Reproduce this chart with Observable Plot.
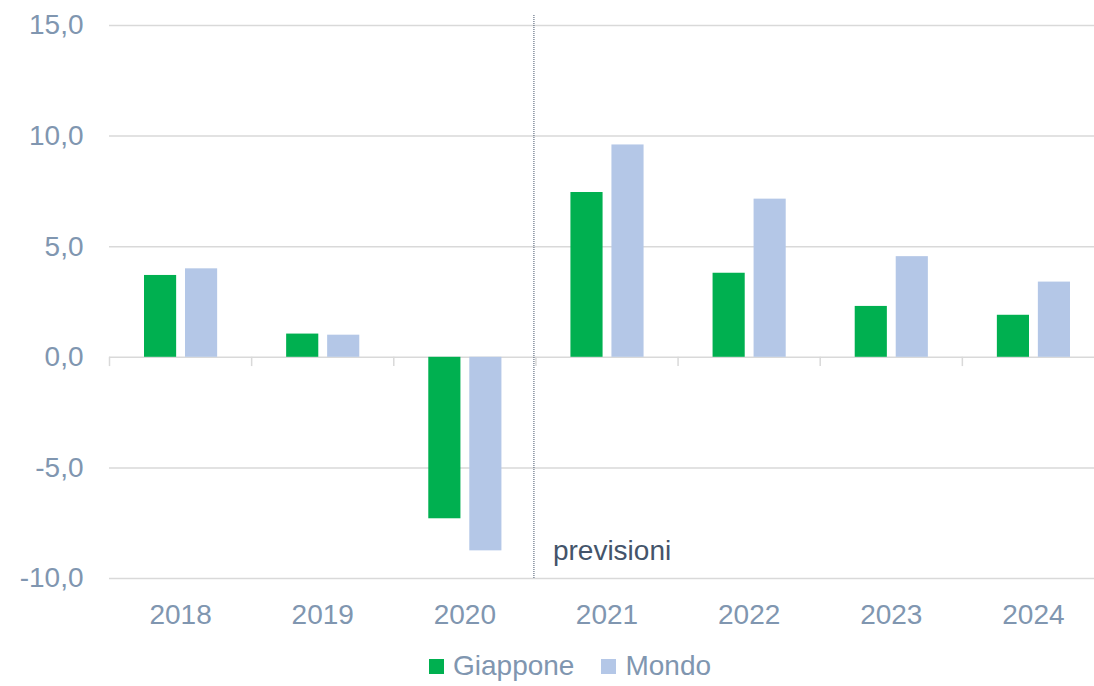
<!DOCTYPE html>
<html>
<head>
<meta charset="utf-8">
<script src="https://cdn.jsdelivr.net/npm/d3@7"></script>
<script src="https://cdn.jsdelivr.net/npm/@observablehq/plot@0.6"></script>
<style>
  body { margin: 0; background: #fff; font-family: "Liberation Sans", Arial, sans-serif; }
  #chart { position: relative; width: 1094px; height: 686px; }
  .legend { position: absolute; left: 429px; top: 650px; display: flex; align-items: center; font-size: 28px; color: #8096b0; }
  .legend .sw { width: 15px; height: 15px; display: inline-block; margin-right: 9px; }
  .legend .item { display: flex; align-items: center; margin-right: 27px; }
</style>
</head>
<body>
<div id="chart"></div>
<script>
const years = [2018, 2019, 2020, 2021, 2022, 2023, 2024];
const giappone = [3.7, 1.05, -7.3, 7.45, 3.8, 2.3, 1.9];
const mondo = [4.0, 1.0, -8.75, 9.6, 7.15, 4.55, 3.4];
const seriesNames = ["Giappone", "Mondo"];
const seriesColors = ["#00b050", "#b4c7e7"];
const yTicks = [-10, -5, 0, 5, 10, 15];
const forecastFrom = 2021;
const forecastLabel = "previsioni";

const dataG = years.map((year, i) => ({year, value: giappone[i]}));
const dataM = years.map((year, i) => ({year, value: mondo[i]}));
const separators = years.map(y => y - 0.5);

const textColor = "#8096b0";
const gridColor = "#d9d9d9";

const plot = Plot.plot({
  width: 1094,
  height: 640,
  marginTop: 25,
  marginBottom: 62,
  marginLeft: 109,
  marginRight: 0,
  style: {fontFamily: "'Liberation Sans', Arial, sans-serif", fontSize: "28px", color: textColor, background: "#fff"},
  x: {
    domain: [years[0] - 0.5, years[years.length - 1] + 0.5],
    range: [109, 1104],
    ticks: years,
    tickFormat: d => String(d),
    tickSize: 0,
    tickPadding: 26,
    label: null
  },
  y: {
    domain: [-10, 15],
    ticks: yTicks,
    tickFormat: d => d.toFixed(1).replace(".", ","),
    tickSize: 0,
    tickPadding: 26,
    label: null
  },
  marks: [
    Plot.ruleY(yTicks, {stroke: gridColor, strokeWidth: 1.5}),
    Plot.ruleX(separators, {x: d => d, y1: 0, y2: -0.42, stroke: gridColor, strokeWidth: 1.5}),
    Plot.rectY(dataG, {x1: d => d.year - 0.5, x2: d => d.year + 0.5, y1: 0, y2: "value", fill: seriesColors[0], insetLeft: 35, insetRight: 75}),
    Plot.rectY(dataM, {x1: d => d.year - 0.5, x2: d => d.year + 0.5, y1: 0, y2: "value", fill: seriesColors[1], insetLeft: 76, insetRight: 34}),
    Plot.ruleX([forecastFrom - 0.5], {x: d => d, dx: -2, stroke: "#44546a", strokeWidth: 1, strokeDasharray: "1,1", insetTop: -10}),
    Plot.text([forecastLabel], {x: forecastFrom - 0.5, y: -8.78, dx: 17, text: d => d, textAnchor: "start", fill: "#44546a", fontSize: 28})
  ]
});
const chart = document.getElementById("chart");
chart.appendChild(plot);

const legend = document.createElement("div");
legend.className = "legend";
seriesNames.forEach((name, i) => {
  const item = document.createElement("div");
  item.className = "item";
  const sw = document.createElement("span");
  sw.className = "sw";
  sw.style.background = seriesColors[i];
  item.appendChild(sw);
  item.appendChild(document.createTextNode(name));
  legend.appendChild(item);
});
chart.appendChild(legend);
</script>
</body>
</html>
